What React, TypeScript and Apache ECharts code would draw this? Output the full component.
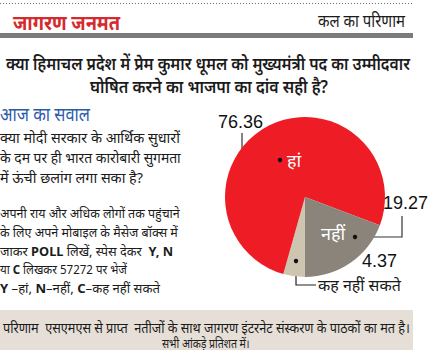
import React, { useEffect, useRef } from 'react';
import * as echarts from 'echarts';

// ---------- data ----------
const categories = ['हां', 'नहीं', 'कह नहीं सकते'];
const values = [76.36, 19.27, 4.37];
// slices drawn clockwise starting from 6 o'clock
const sliceOrder = [2, 0, 1];
const sliceColors = ['#ee1c25', '#8a847b', '#cec5b1'];

const headerLeft = 'जागरण जनमत';
const headerRight = 'कल का परिणाम';
const titleLines = [
  'क्या हिमाचल प्रदेश में प्रेम कुमार धूमल को मुख्यमंत्री पद का उम्मीदवार',
  'घोषित करने का भाजपा का दांव सही है?',
];
const questionHead = 'आज का सवाल';
const questionLines = [
  'क्या मोदी सरकार के आर्थिक सुधारों',
  'के दम पर ही भारत कारोबारी सुगमता',
  'में ऊंची छलांग लगा सका है?',
];
const instructionLines = [
  'अपनी राय और अधिक लोगों तक पहुंचाने',
  'के लिए अपने मोबाइल के मैसेज बॉक्स में',
  'जाकर {b|POLL} लिखें, स्पेस देकर  {b|Y, N}',
  'या {b|C} लिखकर 57272 पर भेजें',
  '{b|Y} –हां, {b|N}–नहीं, {b|C}–कह नहीं सकते',
];
const footerLines = [
  'परिणाम  एसएमएस से प्राप्त  नतीजों के साथ जागरण इंटरनेट संस्करण के पाठकों का मत है।',
  'सभी आंकड़े प्रतिशत में।',
];

// ---------- helpers ----------
const FAMILY = '"Noto Sans", sans-serif';
let ctx: CanvasRenderingContext2D | null = null;
function measure(text: string, size: number, weight: string | number) {
  if (!ctx) ctx = document.createElement('canvas').getContext('2d');
  let w = 0;
  const re = /\{b\|([^}]*)\}/g;
  let last = 0;
  let m: RegExpExecArray | null;
  const segs: [string, string | number][] = [];
  while ((m = re.exec(text))) {
    if (m.index > last) segs.push([text.slice(last, m.index), weight]);
    segs.push([m[1], 'bold']);
    last = m.index + m[0].length;
  }
  if (last < text.length) segs.push([text.slice(last), weight]);
  for (const [t, wt] of segs) {
    ctx!.font = `${wt} ${size}px ${FAMILY}`;
    w += ctx!.measureText(t).width;
  }
  return w;
}

function fitText(
  text: string,
  left: number,
  right: number,
  cy: number,
  size: number,
  opts: { weight?: string | number; fill?: string; align?: 'left' | 'center' } = {}
) {
  const weight = opts.weight ?? 'normal';
  const target = right - left;
  const natural = measure(text, size, weight);
  const s = target / natural;
  const align = opts.align ?? 'left';
  return {
    type: 'text',
    x: align === 'center' ? (left + right) / 2 : left,
    y: cy,
    scaleX: s,
    silent: true,
    style: {
      text,
      fill: opts.fill ?? '#1b1b1b',
      fontSize: size,
      fontFamily: FAMILY,
      fontWeight: weight,
      textAlign: align,
      textVerticalAlign: 'middle',
      rich: { b: { fontWeight: 'bold', fontSize: size, fontFamily: FAMILY, fill: opts.fill ?? '#1b1b1b' } },
    },
  };
}

const valueLayout = [
  { x: 218, y: 122, line: [[280, 160], [242, 160], [242, 133]] },
  { x: 383, y: 203, line: [[355, 237], [402, 237], [402, 216]] },
  { x: 362, y: 261, line: null },
];
const nameLayout = [
  { x: 287, y: 160, line: null },
  { x: 321, y: 233, line: null },
  { x: 318, y: 285, line: [[296, 261], [296, 285], [316, 285]] },
];

export default function App() {
  const ref = useRef<HTMLDivElement>(null);
  useEffect(() => {
    document.body.style.margin = '0';
    const chart = echarts.init(ref.current!, undefined, { renderer: 'svg' });

    const valueData = sliceOrder.map((ci) => ({
      name: categories[ci],
      value: values[ci],
      itemStyle: { color: sliceColors[ci] },
      labelLine: { show: !!valueLayout[ci].line },
    }));
    const nameData = sliceOrder.map((ci) => ({
      name: categories[ci],
      value: values[ci],
      label: {
        color: ci === 2 ? '#1b1b1b' : '#ffffff',
        fontSize: ci === 2 ? 16 : 18,
      },
      labelLine: { show: !!nameLayout[ci].line },
    }));

    const graphics: any[] = [
      {
        type: 'line',
        silent: true,
        shape: { x1: 0, y1: 3.5, x2: 413, y2: 3.5 },
        style: { stroke: '#6f6f6f', lineWidth: 1, lineDash: [1, 2] },
      },
      fitText(headerLeft, 13, 120, 23, 20, { weight: 'bold', fill: '#d42a2e' }),
      fitText(headerRight, 318, 405, 21, 17),
      { type: 'rect', silent: true, shape: { x: 0, y: 33, width: 413, height: 5 }, style: { fill: '#7b7b7b' } },
      fitText(titleLines[0], 6, 410, 63, 18, { weight: 600 }),
      fitText(titleLines[1], 90, 328, 86, 18, { weight: 600, align: 'center' }),
      fitText(questionHead, 0, 90, 114, 19, { fill: '#2b5ba8' }),
      fitText(questionLines[0], 0, 180, 137, 15),
      fitText(questionLines[1], 0, 181, 157, 15),
      fitText(questionLines[2], 0, 143, 177, 15),
      fitText(instructionLines[0], 0, 180, 213, 13),
      fitText(instructionLines[1], 0, 178, 232, 13),
      fitText(instructionLines[2], 0, 173, 251, 13),
      fitText(instructionLines[3], 0, 127, 269, 13),
      fitText(instructionLines[4], 0, 160, 288, 13),
      { type: 'rect', silent: true, shape: { x: 0, y: 310, width: 413, height: 40 }, style: { fill: '#e6dfd7' } },
      fitText(footerLines[0], 3, 410, 328, 14),
      fitText(footerLines[1], 162, 250, 343, 12),
    ];
    // dots at the start of leader lines
    [...valueLayout, ...nameLayout].forEach((l) => {
      if (l.line) {
        graphics.push({
          type: 'circle',
          silent: true,
          z: 100,
          shape: { cx: l.line[0][0], cy: l.line[0][1], r: 2.2 },
          style: { fill: '#111' },
        });
      }
    });

    chart.setOption({
      animation: false,
      backgroundColor: '#ffffff',
      graphic: graphics,
      series: [
        {
          type: 'pie',
          center: [305, 197],
          radius: 80,
          startAngle: 270,
          clockwise: true,
          avoidLabelOverlap: false,
          silent: true,
          data: valueData,
          itemStyle: { borderWidth: 0 },
          label: {
            show: true,
            formatter: (p: any) => values[sliceOrder[p.dataIndex]].toFixed(2),
            color: '#111',
            fontSize: 18,
            fontFamily: '"Liberation Sans", Arial, sans-serif',
            align: 'left',
            verticalAlign: 'middle',
          },
          labelLine: { show: true, smooth: false, lineStyle: { color: '#333', width: 1.2 } },
          labelLayout: (p: any) => {
            const l = valueLayout[sliceOrder[p.dataIndex]];
            const o: any = { x: l.x, y: l.y, align: 'left', verticalAlign: 'middle' };
            if (l.line) o.labelLinePoints = l.line;
            return o;
          },
        },
        {
          type: 'pie',
          center: [305, 197],
          radius: 80,
          startAngle: 270,
          clockwise: true,
          avoidLabelOverlap: false,
          silent: true,
          data: nameData,
          itemStyle: { color: 'rgba(0,0,0,0)', borderWidth: 0 },
          label: {
            show: true,
            formatter: '{b}',
            fontFamily: FAMILY,
            align: 'left',
            verticalAlign: 'middle',
          },
          labelLine: { show: true, smooth: false, lineStyle: { color: '#222', width: 1.2 } },
          labelLayout: (p: any) => {
            const l = nameLayout[sliceOrder[p.dataIndex]];
            const o: any = { x: l.x, y: l.y, align: 'left', verticalAlign: 'middle' };
            if (l.line) o.labelLinePoints = l.line;
            return o;
          },
        },
      ],
    });
    return () => chart.dispose();
  }, []);
  return <div ref={ref} style={{ width: 447, height: 350 }} />;
}
